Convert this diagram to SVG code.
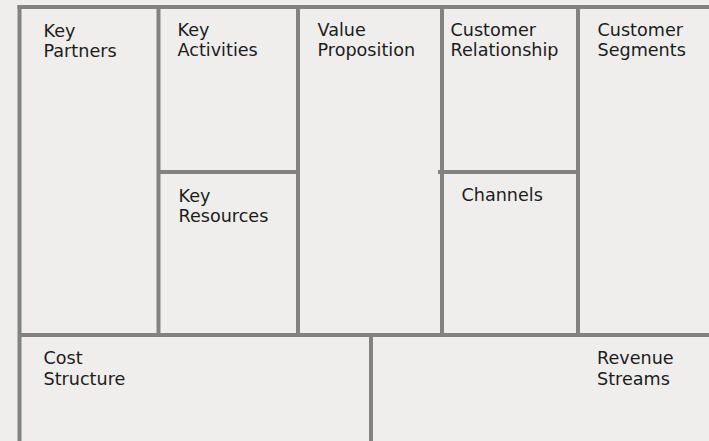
<svg xmlns="http://www.w3.org/2000/svg" width="709" height="441" viewBox="0 0 709 441">
<style>
.bg{fill:#efeeec}
.ln{stroke:#828282;stroke-width:4;fill:none;stroke-linecap:butt}
text{font-family:"DejaVu Sans","Liberation Sans",sans-serif;font-size:17.6px;fill:#1c1c1c}
</style>
<rect class="bg" x="0" y="0" width="709" height="441"/>
<g id="grid">
<line class="ln" x1="17.5" y1="7" x2="709" y2="7"/>
<line class="ln" x1="19.5" y1="5" x2="19.5" y2="441"/>
<line class="ln" x1="158.5" y1="7" x2="158.5" y2="335"/>
<line class="ln" x1="298" y1="7" x2="298" y2="335"/>
<line class="ln" x1="442" y1="7" x2="442" y2="335"/>
<line class="ln" x1="578" y1="7" x2="578" y2="335"/>
<line class="ln" x1="158.5" y1="172" x2="298" y2="172"/>
<line class="ln" x1="438" y1="172" x2="578" y2="172"/>
<line class="ln" x1="19.5" y1="335" x2="709" y2="335"/>
<line class="ln" x1="371" y1="335" x2="371" y2="441"/>
</g>
<g id="key-partners"><text x="43.5" y="36.5">Key</text><text x="43.5" y="56.5">Partners</text></g>
<g id="key-activities"><text x="177.5" y="36">Key</text><text x="177.5" y="56">Activities</text></g>
<g id="value-proposition"><text x="317.5" y="36">Value</text><text x="317.5" y="56">Proposition</text></g>
<g id="customer-relationship"><text x="450.5" y="36">Customer</text><text x="450.5" y="56">Relationship</text></g>
<g id="customer-segments"><text x="597.5" y="36">Customer</text><text x="597.5" y="56">Segments</text></g>
<g id="key-resources"><text x="178.5" y="201.5">Key</text><text x="178.5" y="221.5">Resources</text></g>
<g id="channels"><text x="461.5" y="201">Channels</text></g>
<g id="cost-structure"><text x="43.5" y="364">Cost</text><text x="43.5" y="384.5">Structure</text></g>
<g id="revenue-streams"><text x="597" y="364">Revenue</text><text x="597" y="384.5">Streams</text></g>
</svg>
